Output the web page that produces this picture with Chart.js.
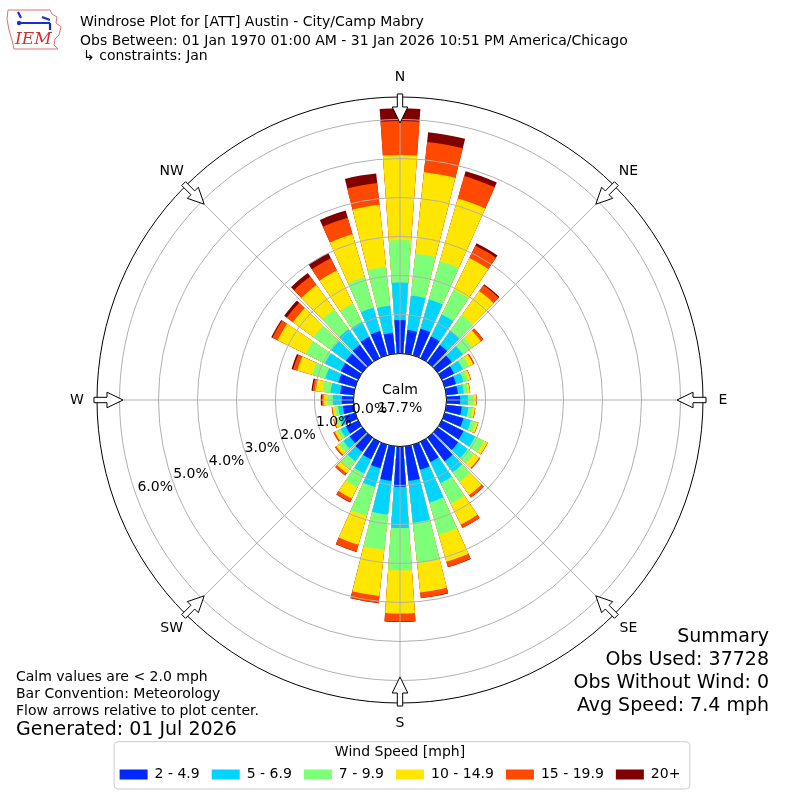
<!DOCTYPE html>
<html>
<head>
<meta charset="utf-8">
<script src="https://cdn.jsdelivr.net/npm/chart.js@4.4.1/dist/chart.umd.min.js"></script>
<style>
  body { margin: 0; background: #fff; }
  #wrap { position: relative; width: 800px; height: 800px; font-family: "DejaVu Sans", sans-serif; color: #000; }
  #wrap canvas { position: absolute; left: 0; top: 0; }
  .t { position: absolute; white-space: nowrap; font-size: 14px; line-height: 16px; }
  .big { font-size: 19px; line-height: 23px; }
</style>
</head>
<body>
<div id="wrap">
  <canvas id="rose" width="800" height="800"></canvas>

  <svg style="position:absolute;left:6px;top:8px" width="60" height="44" viewBox="0 0 60 44">
    <path d="M2,2 L44,2 L46,6 L51,9 L50,15 L55,19 L53,27 L49,31 L48,37 L52,41 L8,41 L6,32 L3,22 L1,11 Z"
          fill="none" stroke="#e07070" stroke-width="1"/>
    <path d="M12,4 L15,10 M14,15 L44,15 M36,9 L44,12 M44,15 L44,22" stroke="#1a2fd0" stroke-width="2.2" fill="none"/>
    <circle cx="13" cy="15" r="2.2" fill="#1a2fd0"/>
    <text x="9" y="36" font-family="DejaVu Serif" font-style="italic" font-size="17" fill="#d03030">IEM</text>
  </svg>

  <div class="t" style="left:80px;top:12.8px">Windrose Plot for [ATT] Austin - City/Camp Mabry</div>
  <div class="t" style="left:80px;top:31.8px">Obs Between: 01 Jan 1970 01:00 AM - 31 Jan 2026 10:51 PM America/Chicago</div>
  <div class="t" style="left:83px;top:46.8px">↳ constraints: Jan</div>

  <div class="t" style="left:16px;top:667.8px;line-height:17px">Calm values are &lt; 2.0 mph<br>Bar Convention: Meteorology<br>Flow arrows relative to plot center.</div>
  <div class="t big" style="left:16px;top:716.6px">Generated: 01 Jul 2026</div>

  <div class="t big" style="right:31px;top:624.4px;text-align:right">Summary<br>Obs Used: 37728<br>Obs Without Wind: 0<br>Avg Speed: 7.4 mph</div>
</div>

<script>
// wind directions (degrees, bar centres) and speed classes
const directions = [0,10,20,30,40,50,60,70,80,90,100,110,120,130,140,150,160,170,
                    180,190,200,210,220,230,240,250,260,270,280,290,300,310,320,330,340,350];
const speedBins = ['2 - 4.9','5 - 6.9','7 - 9.9','10 - 14.9','15 - 19.9','20+'];
const binColors = ['#0028ff','#00d4ff','#7dff7a','#ffe600','#ff4800','#800000'];

// percent of observations per direction for each speed class
const bin2to5   = [0.86,0.61,0.71,0.62,0.55,0.45,0.35,0.30,0.30,0.35,0.40,0.50,0.62,0.65,0.75,0.58,0.67,0.89,
                   1.03,0.89,0.63,0.50,0.45,0.40,0.35,0.30,0.28,0.30,0.35,0.45,0.50,0.52,0.56,0.61,0.65,0.54];
const bin5to7   = [0.96,0.89,0.78,0.63,0.45,0.35,0.25,0.20,0.15,0.20,0.17,0.20,0.33,0.30,0.35,0.60,0.87,1.08,
                   1.06,0.87,0.50,0.40,0.30,0.20,0.15,0.12,0.12,0.23,0.25,0.35,0.45,0.46,0.49,0.42,0.62,0.70];
const bin7to10  = [1.09,1.08,1.02,0.70,0.50,0.30,0.18,0.12,0.11,0.13,0.11,0.13,0.25,0.20,0.30,0.59,0.86,1.04,
                   1.09,0.91,0.77,0.40,0.23,0.15,0.10,0.08,0.08,0.14,0.20,0.35,0.55,0.57,0.63,0.53,0.81,1.00];
const bin10to15 = [2.18,2.10,1.67,0.91,0.76,0.27,0.12,0.07,0.05,0.08,0.06,0.06,0.10,0.17,0.42,0.59,0.72,0.76,
                   1.10,1.19,0.77,0.32,0.15,0.08,0.07,0.07,0.07,0.10,0.18,0.40,0.80,0.65,0.77,0.94,1.15,1.60];
const bin15to20 = [0.87,0.78,0.60,0.35,0.19,0.08,0.03,0.01,0.01,0.01,0.01,0.01,0.01,0.03,0.08,0.10,0.14,0.14,
                   0.21,0.18,0.18,0.10,0.07,0.04,0.04,0.02,0.02,0.04,0.08,0.11,0.15,0.20,0.27,0.35,0.44,0.56];
const bin20up   = [0.33,0.25,0.13,0.07,0.03,0.00,0.00,0.00,0.00,0.00,0.00,0.00,0.00,0.00,0.00,0.00,0.01,0.01,
                   0.01,0.01,0.01,0.01,0.00,0.00,0.00,0.00,0.00,0.03,0.03,0.04,0.03,0.08,0.11,0.15,0.19,0.25];

const ringTicks = [0,1,2,3,4,5,6];
const compassPoints = ['N','NE','E','SE','S','SW','W','NW'];
const calmPercent = 17.7;

// radial limits: negative minimum leaves room for the calm circle
const rMin = -1.192;
const rMax = 6.577;
const barWidth = 8;   // degrees
const gapWidth = 2;

// stacked bars are drawn as overlapping arcs of cumulative height
const bins = [bin2to5, bin5to7, bin7to10, bin10to15, bin15to20, bin20up];
let running = directions.map(() => 0);
const cumulative = bins.map(b => {
  running = running.map((v, i) => v + b[i]);
  return running.slice();
});
const slotData = vals => vals.flatMap(v => [v, 0]);
const labels = directions.flatMap(d => [d + '°', '']);

Chart.defaults.font.family = 'DejaVu Sans';
Chart.defaults.color = '#000';

const roseDecor = {
  id: 'roseDecor',
  afterDraw(chart) {
    const ctx = chart.ctx;
    const sc = chart.scales.r;
    const cx = sc.xCenter, cy = sc.yCenter;
    const outer = sc.drawingArea;
    const calmR = sc.getDistanceFromCenterForValue(0);
    ctx.save();

    // angle lines every 45 degrees
    ctx.strokeStyle = '#b0b0b0';
    ctx.lineWidth = 1;
    compassPoints.forEach((p, i) => {
      const a = (i * 45 - 90) * Math.PI / 180;
      ctx.beginPath();
      ctx.moveTo(cx, cy);
      ctx.lineTo(cx + outer * Math.cos(a), cy + outer * Math.sin(a));
      ctx.stroke();
    });

    // calm circle
    ctx.beginPath();
    ctx.arc(cx, cy, calmR, 0, 2 * Math.PI);
    ctx.fillStyle = '#fff';
    ctx.fill();
    ctx.strokeStyle = '#000';
    ctx.stroke();

    // hollow flow arrows pointing to the centre
    compassPoints.forEach((p, i) => {
      const t = i * 45 * Math.PI / 180;
      const ux = Math.sin(t), uy = -Math.cos(t);
      const vx = Math.cos(t), vy = Math.sin(t);
      const pt = (d, w) => [cx + ux * d + vx * w, cy + uy * d + vy * w];
      const tail = outer * 1.01, base = outer * 0.967, tip = outer * 0.914;
      const pts = [pt(tail, 2.7), pt(base, 2.7), pt(base, 7.8), pt(tip, 0),
                   pt(base, -7.8), pt(base, -2.7), pt(tail, -2.7)];
      ctx.beginPath();
      pts.forEach((q, k) => k ? ctx.lineTo(q[0], q[1]) : ctx.moveTo(q[0], q[1]));
      ctx.closePath();
      ctx.fillStyle = '#fff';
      ctx.fill();
      ctx.strokeStyle = '#000';
      ctx.lineWidth = 1;
      ctx.stroke();
    });

    ctx.fillStyle = '#000';
    ctx.font = '14px "DejaVu Sans"';
    ctx.textAlign = 'center';
    ctx.textBaseline = 'middle';

    // compass labels
    compassPoints.forEach((p, i) => {
      const t = i * 45 * Math.PI / 180;
      ctx.fillText(p, cx + Math.sin(t) * (outer + 20), cy - Math.cos(t) * (outer + 20));
    });

    // ring labels along 250 degrees
    const lt = 250 * Math.PI / 180;
    ringTicks.forEach(v => {
      const d = sc.getDistanceFromCenterForValue(v) - 14 - v;
      ctx.fillText(v.toFixed(1) + '%', cx + Math.sin(lt) * d, cy - Math.cos(lt) * d - 2);
    });

    // calm text
    ctx.fillText('Calm', cx, cy - 10);
    ctx.fillText(calmPercent.toFixed(1) + '%', cx, cy + 8);

    // legend frame
    const lg = chart.legend;
    const hb = lg.legendHitBoxes;
    if (hb && hb.length) {
      const last = hb[hb.length - 1];
      const x0 = hb[0].left - 6, x1 = last.left + last.width + 9;
      const y0 = lg.top + 38, y1 = last.top + last.height + 7;
      ctx.beginPath();
      ctx.roundRect(x0 + 0.5, y0 + 0.5, x1 - x0, y1 - y0, 4);
      ctx.strokeStyle = '#cccccc';
      ctx.lineWidth = 1;
      ctx.stroke();
    }
    ctx.restore();
  }
};

new Chart(document.getElementById('rose'), {
  type: 'polarArea',
  data: {
    labels: labels,
    datasets: speedBins.map((name, i) => ({
      label: name,
      data: slotData(cumulative[i]),
      backgroundColor: c => (c.dataIndex % 2 ? 'rgba(0,0,0,0)' : binColors[i]),
      borderWidth: 0,
      angle: c => (c.dataIndex % 2 ? gapWidth : barWidth),
      order: i + 1
    }))
  },
  options: {
    responsive: false,
    animation: false,
    events: [],
    layout: { padding: { top: 97, left: 97, right: 97, bottom: 8.5 } },
    scales: {
      r: {
        min: rMin,
        max: rMax,
        startAngle: -barWidth / 2,
        ticks: { display: false },
        pointLabels: { display: false },
        angleLines: { display: false },
        grid: {
          z: 1,
          circular: true,
          color: c => (c.tick && c.tick.value > ringTicks[ringTicks.length - 1] + 0.1 ? '#000' : '#b0b0b0'),
          lineWidth: 1
        },
        afterBuildTicks: s => {
          s.ticks = ringTicks.concat([s.max]).map(v => ({ value: v }));
        }
      }
    },
    plugins: {
      tooltip: { enabled: false },
      legend: {
        position: 'bottom',
        title: {
          display: true,
          text: 'Wind Speed [mph]',
          color: '#000',
          font: { size: 14 },
          padding: { top: 41.9, bottom: -6.4 }
        },
        labels: {
          color: '#000',
          font: { size: 14 },
          boxWidth: 28,
          boxHeight: 10,
          padding: 12,
          generateLabels: chart => chart.data.datasets.map((ds, i) => ({
            text: ds.label,
            fillStyle: binColors[i],
            strokeStyle: binColors[i],
            lineWidth: 0,
            hidden: false,
            datasetIndex: i
          }))
        }
      }
    }
  },
  plugins: [roseDecor]
});
</script>
</body>
</html>
